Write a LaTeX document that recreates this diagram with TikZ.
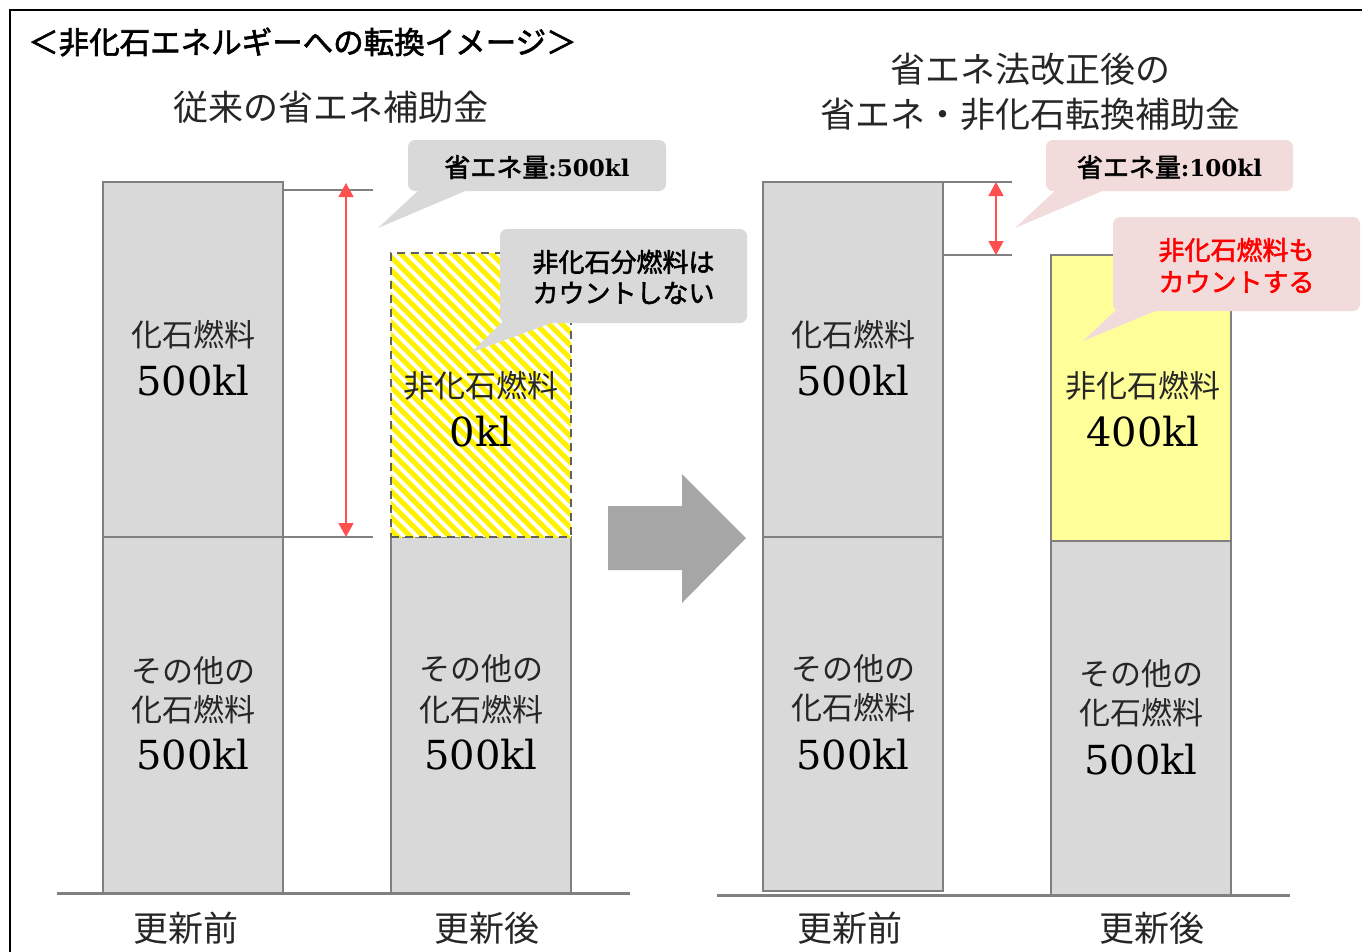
\documentclass[tikz,border=0pt]{standalone}
\usepackage{fontspec}
\newfontfamily\cjk{Noto Sans CJK JP}
\newfontfamily\cjkb[FakeBold=2]{Noto Sans CJK JP}
\newfontfamily\numf{DejaVu Serif}
\usetikzlibrary{arrows.meta}
\definecolor{bargray}{HTML}{D9D9D9}
\definecolor{edgegray}{HTML}{808080}
\definecolor{dashgray}{HTML}{606060}
\definecolor{arrowgray}{HTML}{A6A6A6}
\definecolor{lightyellow}{HTML}{FFFF99}
\definecolor{callgray}{HTML}{D9D9D9}
\definecolor{callpink}{HTML}{F2DCDB}
\definecolor{redarrow}{HTML}{FF5050}
\definecolor{txt}{HTML}{262626}
\tikzset{
  barbox/.style={draw=edgegray, line width=1.8pt, fill=bargray, inner sep=0pt, minimum width=180pt},
  lbltxt/.style={font=\cjk\fontsize{31}{36}\selectfont, text=txt, inner sep=0pt},
  numtxt/.style={font=\numf\fontsize{40}{46}\selectfont, text=black, inner sep=0pt},
  captxt/.style={font=\cjk\fontsize{35}{40}\selectfont, text=txt, inner sep=0pt},
  tickline/.style={draw=edgegray, line width=1.5pt},
  groundline/.style={draw=edgegray, line width=3pt},
  redarr/.style={draw=redarrow, line width=1.5pt, {Triangle[width=15pt,length=14pt]}-{Triangle[width=15pt,length=14pt]}, redarrow},
  callbox/.style={rounded corners=7pt, inner sep=0pt},
  calltxt/.style={font=\cjkb\fontsize{26}{30}\selectfont, text=black, inner sep=0pt},
}
\begin{document}
\begin{tikzpicture}[x=1pt,y=-1pt]
\useasboundingbox (0,0) rectangle (1362,951);
% frame
\draw[line width=1.5pt, black] (10,960) -- (10,10) -- (1370,10);

% titles
\node[font=\cjkb\fontsize{30.5}{34}\selectfont, anchor=west, inner sep=0pt] (title) at (28,42) {＜非化石エネルギーへの転換イメージ＞};
\node[captxt] (t1) at (331,107) {従来の省エネ補助金};
\node[captxt] (t2a) at (1030,69) {省エネ法改正後の};
\node[captxt] (t2b) at (1030,114) {省エネ・非化石転換補助金};

% ---------- left group ----------
\node[barbox, minimum height=355pt] (b1u) at (193,359.5) {};
\node[barbox, minimum height=356pt] (b1l) at (193,715) {};
\node[barbox, minimum height=356pt] (b2l) at (481,715) {};
% hatched bar
\begin{scope}
  \clip (391,253) rectangle (571,537);
  \fill[white] (391,253) rectangle (571,537);
  \foreach \i in {0,...,38} {
    \draw[yellow, line width=5pt] (391-300+\i*13,243) -- ++(330,330);
  }
\end{scope}
\node[draw=dashgray, dash pattern=on 8pt off 6pt, line width=1.8pt, inner sep=0pt, minimum width=180pt, minimum height=284pt] (b2u) at (481,395) {};

\draw[groundline] (57,893) -- (630,893);

% ticks and arrow
\coordinate (k1a) at (283,190);
\coordinate (k1b) at (373,190);
\coordinate (k1c) at (283,537);
\coordinate (k1d) at (373,537);
\draw[tickline] (k1a) -- (k1b);
\draw[tickline] (k1c) -- (k1d);
\coordinate (a1t) at (346,183);
\coordinate (a1b) at (346,537);
\draw[redarr] (a1t) -- (a1b);

% labels left
\node[lbltxt] (l1a) at (193,335) {化石燃料};
\node[numtxt] (l1b) at (193,381) {500kl};
\node[lbltxt] (l2a) at (193,671) {その他の};
\node[lbltxt] (l2b) at (193,710) {化石燃料};
\node[numtxt] (l2c) at (193,755) {500kl};
\node[lbltxt] (l3a) at (481,386) {非化石燃料};
\node[numtxt] (l3b) at (481,432) {0kl};
\node[lbltxt] (l4a) at (481,669) {その他の};
\node[lbltxt] (l4b) at (481,710) {化石燃料};
\node[numtxt] (l4c) at (481,755) {500kl};
\node[captxt] (x1) at (186,928) {更新前};
\node[captxt] (x2) at (487,928) {更新後};

% callouts left
\fill[callgray] (420,189) -- (378,228) -- (470,189) -- cycle;
\node[callbox, fill=callgray, minimum width=258pt, minimum height=51pt] (c1) at (537,165.5) {};
\node[calltxt] (c1t) at (537,167) {省エネ量{\numf\bfseries\fontsize{23}{30}\selectfont :500kl}};
\fill[callgray] (503,321) -- (472,352) -- (557,321) -- cycle;
\node[callbox, fill=callgray, minimum width=247pt, minimum height=94pt] (c2) at (623.5,276) {};
\node[calltxt] (c2a) at (623.5,262) {非化石分燃料は};
\node[calltxt] (c2b) at (623.5,293) {カウントしない};

% big arrow
\fill[arrowgray] (608,506) -- (682,506) -- (682,474) -- (746,538) -- (682,603) -- (682,570) -- (608,570) -- cycle;

% ---------- right group ----------
\node[barbox, minimum height=355pt] (b3u) at (853,359.5) {};
\node[barbox, minimum height=354pt] (b3l) at (853,714) {};
\node[barbox, fill=lightyellow, minimum height=286pt] (b4u) at (1141,398) {};
\node[barbox, minimum height=354pt] (b4l) at (1141,718) {};
\draw[groundline] (717,895) -- (1290,895);

\coordinate (k2a) at (943,182);
\coordinate (k2b) at (1012,182);
\coordinate (k2c) at (943,255);
\coordinate (k2d) at (1012,255);
\draw[tickline] (k2a) -- (k2b);
\draw[tickline] (k2c) -- (k2d);
\coordinate (a2t) at (996,182);
\coordinate (a2b) at (996,255);
\draw[redarr] (a2t) -- (a2b);

\node[lbltxt] (r1a) at (853,335) {化石燃料};
\node[numtxt] (r1b) at (853,381) {500kl};
\node[lbltxt] (r2a) at (853,669) {その他の};
\node[lbltxt] (r2b) at (853,708) {化石燃料};
\node[numtxt] (r2c) at (853,755) {500kl};
\node[lbltxt] (r3a) at (1143,386) {非化石燃料};
\node[numtxt] (r3b) at (1143,432) {400kl};
\node[lbltxt] (r4a) at (1141,674) {その他の};
\node[lbltxt] (r4b) at (1141,713) {化石燃料};
\node[numtxt] (r4c) at (1141,760) {500kl};
\node[captxt] (x3) at (850,928) {更新前};
\node[captxt] (x4) at (1152,928) {更新後};

\fill[callpink] (1057,189) -- (1015,228) -- (1107,189) -- cycle;
\node[callbox, fill=callpink, minimum width=247pt, minimum height=51pt] (c3) at (1169.5,165.5) {};
\node[calltxt] (c3t) at (1169.5,167) {省エネ量{\numf\bfseries\fontsize{23}{30}\selectfont :100kl}};
\fill[callpink] (1117,309) -- (1083,341) -- (1160,309) -- cycle;
\node[callbox, fill=callpink, minimum width=247pt, minimum height=94pt] (c4) at (1236.5,264) {};
\node[calltxt, text=red] (c4a) at (1236.5,250) {非化石燃料も};
\node[calltxt, text=red] (c4b) at (1236.5,282) {カウントする};
\end{tikzpicture}
\end{document}
